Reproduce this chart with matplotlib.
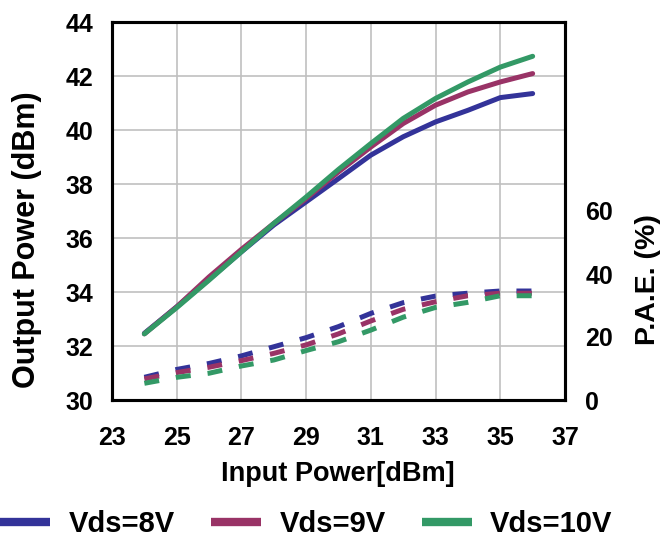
import matplotlib.pyplot as plt

plt.rcParams['font.family'] = ['Liberation Sans', 'DejaVu Sans']
plt.rcParams['font.weight'] = 'bold'

# input power sweep
pin = [24, 25, 26, 27, 28, 29, 30, 31, 32, 33, 34, 35, 36]

# output power (dBm)
pout_8v = [32.47, 33.45, 34.47, 35.49, 36.48, 37.34, 38.2, 39.07, 39.75, 40.3, 40.73, 41.2, 41.35]
pout_9v = [32.45, 33.45, 34.56, 35.58, 36.54, 37.46, 38.45, 39.37, 40.24, 40.92, 41.41, 41.78, 42.09]
pout_10v = [32.45, 33.42, 34.44, 35.49, 36.54, 37.52, 38.54, 39.5, 40.43, 41.17, 41.78, 42.33, 42.73]

# PAE (%)
pae_8v = [7.2, 9.7, 11.6, 14.0, 16.9, 19.8, 23.3, 27.5, 30.9, 33.0, 33.9, 34.6, 34.6]
pae_9v = [6.7, 8.7, 10.4, 12.5, 14.8, 17.5, 21.0, 25.1, 28.8, 31.2, 33.1, 33.9, 33.9]
pae_10v = [5.3, 7.2, 8.5, 10.8, 12.7, 15.7, 18.5, 22.2, 26.3, 29.4, 31.0, 33.1, 33.1]

labels = ['Vds=8V', 'Vds=9V', 'Vds=10V']
colors = ['#333399', '#993366', '#339966']

W, H = 664, 538
fig = plt.figure(figsize=(W / 100, H / 100), dpi=100)
ax = fig.add_axes([112 / W, 1 - 400 / H, 453 / W, 378 / H])
ax2 = ax.twinx()

for y, c, lab in zip([pout_8v, pout_9v, pout_10v], colors, labels):
    ax.plot(pin, y, color=c, lw=3.6, label=lab, solid_capstyle='round')
# PAE dashed, short dashes with wide gaps like the excel plot
for y, c in zip([pae_8v, pae_9v, pae_10v], colors):
    ax2.plot(pin, y, color=c, lw=3.6, dashes=(3.0, 3.4))

ax.set_xlim(23, 37)
ax.set_ylim(30, 44)
ax.set_xticks(range(23, 38, 2))
ax.set_yticks(range(30, 45, 2))
ax2.set_ylim(0, 120)
ax2.set_yticks([0, 20, 40, 60])

ax.grid(True, color='#c0c0c0', lw=1.2)
ax.set_axisbelow(True)
for a in (ax, ax2):
    for s in a.spines.values():
        s.set_linewidth(2.2)
    a.tick_params(length=0, labelsize=18)
ax.tick_params(axis='x', pad=19)
ax.tick_params(axis='y', pad=13.5)
ax2.tick_params(axis='y', pad=14.5)

fig.text(338 / W, 1 - 474 / H, 'Input Power[dBm]', fontsize=19.5, fontweight='bold',
         ha='center', va='center')
fig.text(27 / W, 1 - 240 / H, 'Output Power (dBm)', fontsize=22, fontweight='bold',
         ha='center', va='center', rotation=90)
fig.text(648 / W, 1 - 280 / H, 'P.A.E. (%)', fontsize=20.5, fontweight='bold',
         ha='center', va='center', rotation=90)

leg = ax.legend(loc='center left', bbox_to_anchor=(0.0, 1 - 524 / H), bbox_transform=fig.transFigure,
                ncol=3, frameon=False, fontsize=21, handlelength=1.72, columnspacing=1.24,
                handletextpad=0.63, borderpad=0, borderaxespad=0)
for line in leg.get_lines():
    line.set_linewidth(6)
    line.set_solid_capstyle('butt')

fig.savefig('out.png', dpi=100)
